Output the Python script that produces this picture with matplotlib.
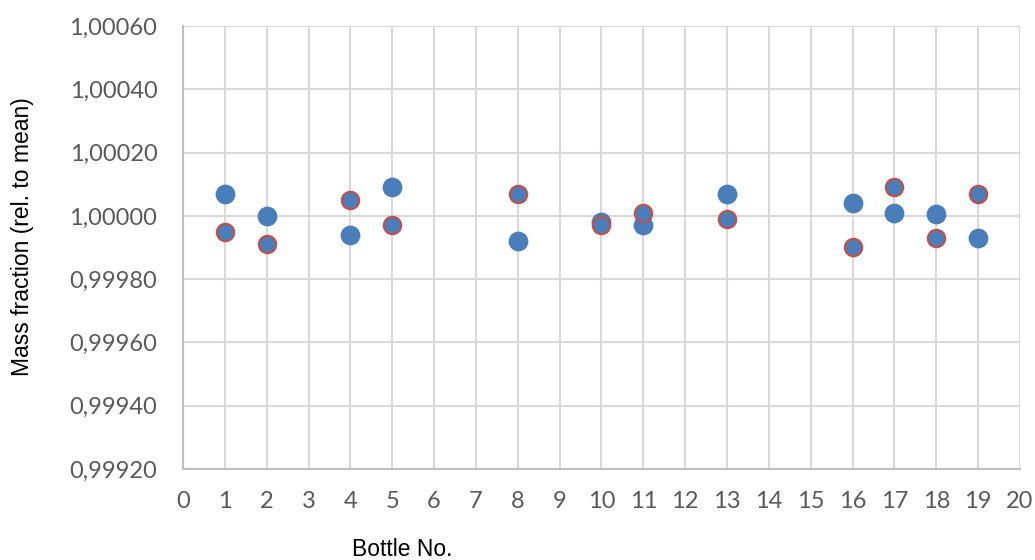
import numpy as np
import matplotlib
matplotlib.use('Agg')
import matplotlib.pyplot as plt
from matplotlib.ticker import FuncFormatter

bottles = [1, 2, 4, 5, 8, 10, 11, 13, 16, 17, 18, 19]
# series 1: filled blue points
series_a = [1.00007, 1.00000, 0.99994, 1.00009, 0.99992, 0.99998,
            0.99997, 1.00007, 1.00004, 1.00001, 1.000005, 0.99993]
# series 2: blue points with red outline
series_b = [0.99995, 0.99991, 1.00005, 0.99997, 1.00007, 0.99997,
            1.00001, 0.99999, 0.99990, 1.00009, 0.99993, 1.00007]

x_ticks = list(range(0, 21))
y_ticks = [0.99920, 0.99940, 0.99960, 0.99980, 1.00000, 1.00020, 1.00040, 1.00060]

fig = plt.figure(figsize=(10.35, 5.6), dpi=100)
ax = fig.add_axes([0.1768, 0.1625, 0.8087, 0.7911])

blue = '#4A7EBB'
red = '#C0504D'
ax.scatter(bottles, series_a, s=175, color=blue, edgecolors=blue, linewidths=1, zorder=3)
ax.scatter(bottles, series_b, s=155, color=blue, edgecolors=red, linewidths=1.6, zorder=4)

ax.set_xlim(0, 20)
ax.set_ylim(0.99920, 1.00060)
ax.set_xticks(x_ticks)
ax.set_yticks(y_ticks)
ax.yaxis.set_major_formatter(FuncFormatter(lambda v, p: f'{v:.5f}'.replace('.', ',')))

ax.grid(True, color='#D9D9D9', linewidth=1.5, zorder=0)
ax.set_axisbelow(True)
for side in ['top', 'right']:
    ax.spines[side].set_visible(False)
for side in ['left', 'bottom']:
    ax.spines[side].set_color('#BFBFBF')
    ax.spines[side].set_linewidth(1.5)
ax.tick_params(length=0, labelsize=17, labelcolor='#595959')
for lab in ax.get_xticklabels() + ax.get_yticklabels():
    lab.set_family('Lato')
ax.tick_params(axis='x', pad=16)
ax.tick_params(axis='y', pad=18.5)

fig.text(402 / 1035, 1 - 550 / 560, 'Bottle No.', ha='center', va='center',
         fontsize=16.5, family='Liberation Sans')
fig.text(23 / 1035, 1 - 237 / 560, 'Mass fraction (rel. to mean)', ha='center', va='center',
         rotation=90, fontsize=16.5, family='Liberation Sans')

fig.savefig('out.png', dpi=100)
